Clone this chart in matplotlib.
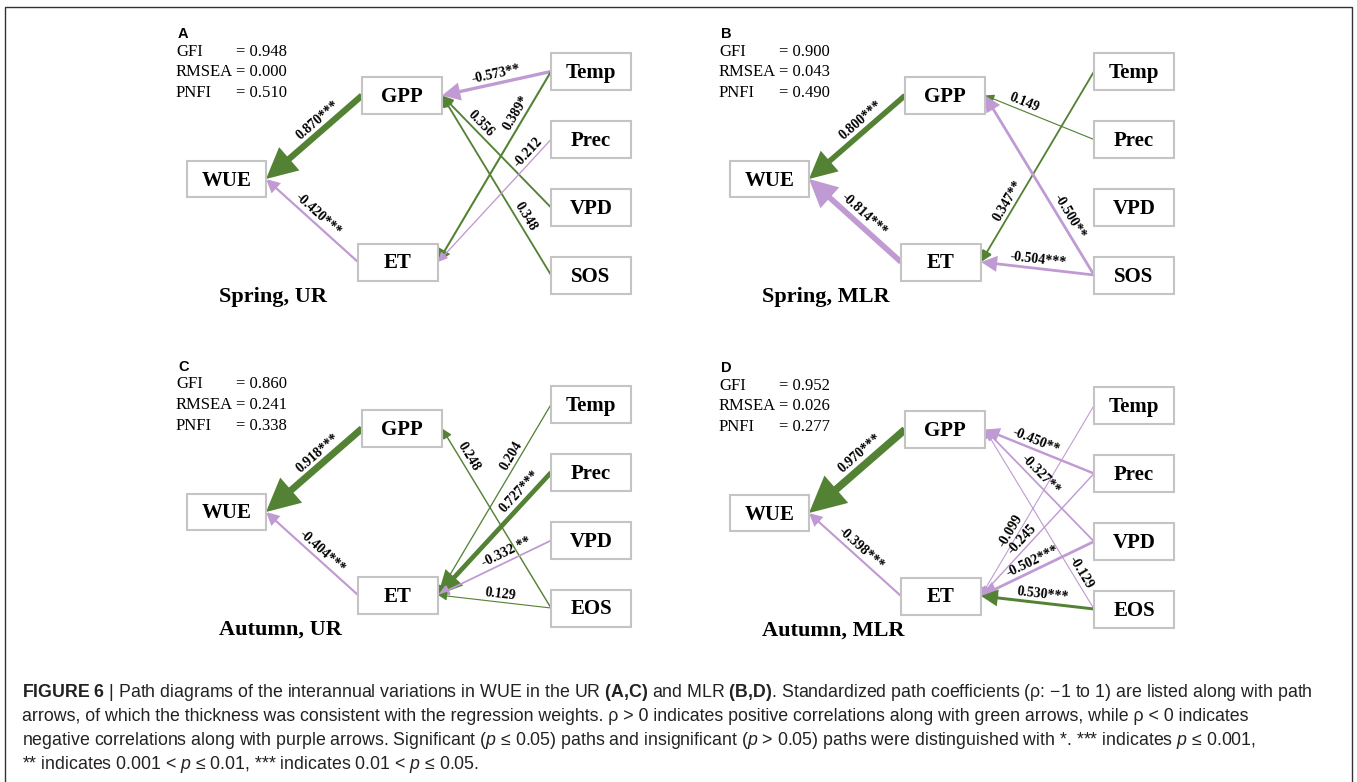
import numpy as np
import matplotlib
matplotlib.use("Agg")
import matplotlib.pyplot as plt
from matplotlib.patches import FancyArrowPatch, Rectangle, ArrowStyle

# ---- data ----
letters = ["A", "B", "C", "D"]
titles = ["Spring, UR", "Spring, MLR", "Autumn, UR", "Autumn, MLR"]
phen = ["SOS", "SOS", "EOS", "EOS"]
gfi = [0.948, 0.900, 0.860, 0.952]
rmsea = [0.000, 0.043, 0.241, 0.026]
pnfi = [0.510, 0.490, 0.338, 0.277]

# (from, to, path coefficient, significance stars)
edges_A = [("GPP", "WUE", 0.870, "***"), ("ET", "WUE", -0.420, "***"),
           ("Temp", "GPP", -0.573, "**"), ("Temp", "ET", 0.389, "*"),
           ("VPD", "GPP", 0.356, ""), ("Phen", "GPP", 0.348, ""),
           ("Prec", "ET", -0.212, "")]
edges_B = [("GPP", "WUE", 0.800, "***"), ("ET", "WUE", -0.814, "***"),
           ("Prec", "GPP", 0.149, ""), ("Temp", "ET", 0.347, "**"),
           ("Phen", "GPP", -0.500, "**"), ("Phen", "ET", -0.504, "***")]
edges_C = [("GPP", "WUE", 0.918, "***"), ("ET", "WUE", -0.404, "***"),
           ("Phen", "GPP", 0.248, ""), ("Temp", "ET", 0.204, ""),
           ("Prec", "ET", 0.727, "***"), ("VPD", "ET", -0.332, " **"),
           ("Phen", "ET", 0.129, "")]
edges_D = [("GPP", "WUE", 0.970, "***"), ("ET", "WUE", -0.398, "***"),
           ("Prec", "GPP", -0.450, "**"), ("VPD", "GPP", -0.327, "**"),
           ("Phen", "GPP", -0.129, ""), ("Temp", "ET", -0.099, ""),
           ("Prec", "ET", -0.245, ""), ("VPD", "ET", -0.502, "***"),
           ("Phen", "ET", 0.530, "***")]
edges = [edges_A, edges_B, edges_C, edges_D]

# ---- layout (pixels) ----
W, H = 1357, 782
offsets = [(0, 0), (543, 0), (0, 333), (543, 334)]
node_x = {"WUE": 226.5, "GPP": 402, "ET": 398, "Temp": 591, "Prec": 591, "VPD": 591, "Phen": 591}
node_y = {"WUE": 179, "GPP": 95.5, "ET": 262, "Temp": 71.5, "Prec": 139.5, "VPD": 207.5, "Phen": 275}
box_w = {"WUE": 79, "GPP": 80, "ET": 80, "Temp": 80, "Prec": 80, "VPD": 80, "Phen": 80}
box_h = 37
# where along each path its label sits (fraction from source)
label_t = [[0.39, 0.50, 0.49, 0.24, 0.70, 0.30, 0.15],
           [0.39, 0.48, 0.67, 0.70, 0.30, 0.50],
           [0.39, 0.45, 0.82, 0.29, 0.21, 0.36, 0.46],
           [0.39, 0.50, 0.56, 0.55, 0.18, 0.68, 0.58, 0.51, 0.46]]

green = "#548235"
purple = "#C09AD2"
serif = "Liberation Serif"

fig = plt.figure(figsize=(W / 100, H / 100), dpi=100)
ax = fig.add_axes([0, 0, 1, 1])
ax.set_xlim(0, W)
ax.set_ylim(H, 0)
ax.axis("off")

# outer frame
ax.add_patch(Rectangle((5, 7), 1347, 800, fc="none", ec="#333333", lw=1.0, zorder=0))


def draw_panel(k):
    ox, oy = offsets[k]
    # boxes
    for n in node_x:
        cx, cy = node_x[n] + ox, node_y[n] + oy
        w = box_w[n]
        h = box_h - (1 if n == "WUE" else 0)
        ax.add_patch(Rectangle((cx - w / 2, cy - h / 2), w, h, fc="white",
                               ec="#c4c4c4", lw=1.5, zorder=3))
        name = phen[k] if n == "Phen" else n
        ax.text(cx, cy + 6.5, name, ha="center", va="baseline", fontsize=15,
                fontweight="bold", family=serif, zorder=4)
    # paths
    for (s, d, rho, st), t in zip(edges[k], label_t[k]):
        x1, y1 = node_x[s] + ox - box_w[s] / 2, node_y[s] + oy
        x2, y2 = node_x[d] + ox + box_w[d] / 2, node_y[d] + oy
        col = green if rho > 0 else purple
        wpx = 1.0 + 7.0 * rho ** 2
        hl = 7 + 18 * rho ** 2
        hw = 0.5 * hl
        style = ArrowStyle("-|>", head_length=hl * 0.72, head_width=hw * 0.72)
        ax.add_patch(FancyArrowPatch((x1, y1), (x2, y2), arrowstyle=style,
                                     mutation_scale=1, lw=wpx * 0.72, color=col,
                                     shrinkA=0, shrinkB=0, joinstyle="miter",
                                     capstyle="butt", zorder=2))
        dx, dy = x2 - x1, y2 - y1
        L = np.hypot(dx, dy)
        nx, ny = dy / L, -dx / L
        if ny > 0:
            nx, ny = -nx, -ny
        off = 7.5 + wpx / 2
        lx = x1 + t * dx + nx * off
        ly = y1 + t * dy + ny * off
        ang = np.degrees(np.arctan2(-dy, dx))
        if ang > 90:
            ang -= 180
        elif ang <= -90:
            ang += 180
        ax.text(lx, ly, f"{rho:.3f}{st}", ha="center", va="center", rotation=ang,
                rotation_mode="anchor", fontsize=10, fontweight="bold",
                family=serif, zorder=5)
    # fit statistics
    for i, (nm, v) in enumerate(zip(["GFI", "RMSEA", "PNFI"], [gfi[k], rmsea[k], pnfi[k]])):
        y = 55.5 + 20.7 * i + oy
        ax.text(176 + ox, y, nm, ha="left", va="baseline", fontsize=12, family=serif)
        ax.text(236 + ox, y, f"= {v:.3f}", ha="left", va="baseline", fontsize=12, family=serif)
    ax.text(178 + ox, 38 + oy, letters[k], ha="left", va="baseline", fontsize=10.5,
            fontweight="bold", family="Liberation Sans")
    ax.text(219 + ox, 302 + oy, titles[k], ha="left", va="baseline", fontsize=16,
            fontweight="bold", family=serif)


for k in range(4):
    draw_panel(k)

# caption
plt.rcParams["mathtext.fontset"] = "custom"
plt.rcParams["mathtext.rm"] = "Liberation Sans"
plt.rcParams["mathtext.it"] = "Liberation Sans:italic"
plt.rcParams["mathtext.bf"] = "Liberation Sans:bold"
caption = [
    r"$\mathbf{FIGURE\ 6}$ | Path diagrams of the interannual variations in WUE in the UR $\mathbf{(A{,}C)}$ and MLR $\mathbf{(B{,}D)}$. Standardized path coefficients (ρ: −1 to 1) are listed along with path",
    r"arrows, of which the thickness was consistent with the regression weights. ρ > 0 indicates positive correlations along with green arrows, while ρ < 0 indicates",
    r"negative correlations along with purple arrows. Significant ($\mathit{p}$ ≤ 0.05) paths and insignificant ($\mathit{p}$ > 0.05) paths were distinguished with *. *** indicates $\mathit{p}$ ≤ 0.001,",
    r"** indicates 0.001 < $\mathit{p}$ ≤ 0.01, *** indicates 0.01 < $\mathit{p}$ ≤ 0.05.",
]
for i, line in enumerate(caption):
    ax.text(22, 697 + 24 * i, line, ha="left", va="baseline", fontsize=12.8,
            family="Liberation Sans", color="#222222")

fig.savefig("out.png", dpi=100)
